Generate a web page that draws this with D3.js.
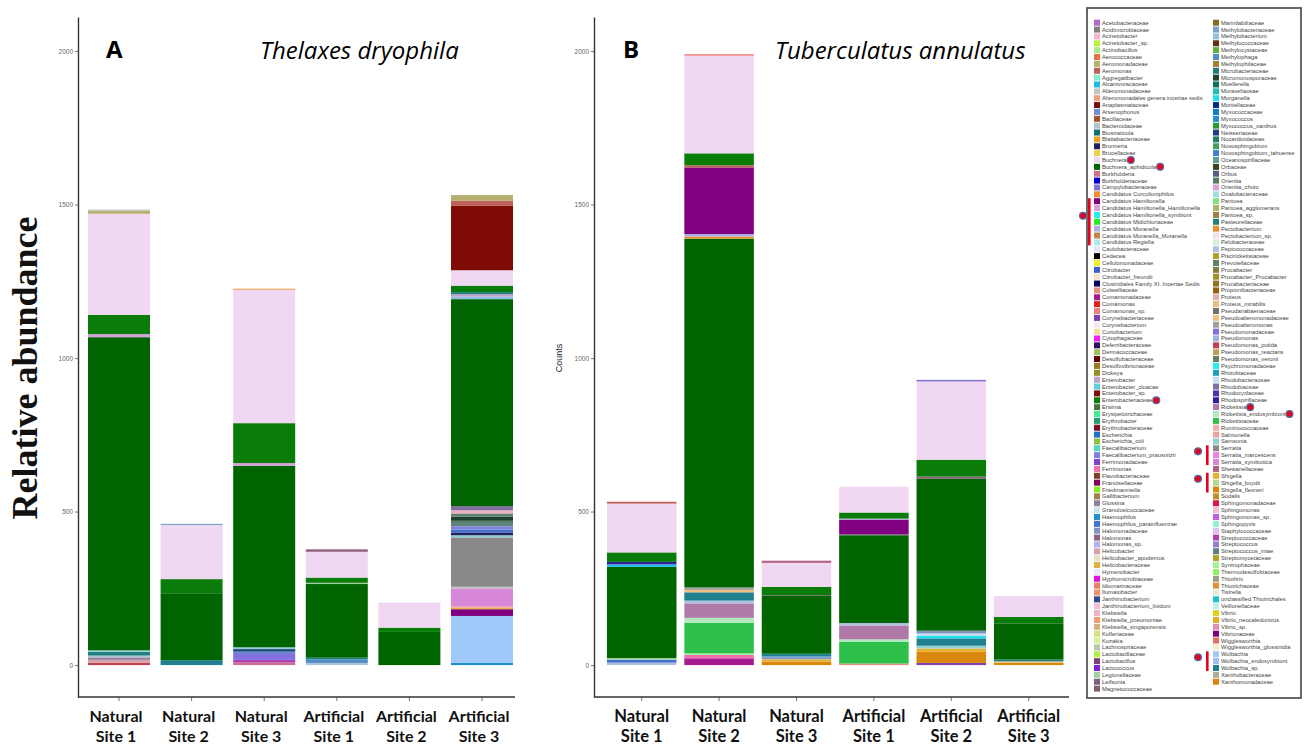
<!DOCTYPE html>
<html><head><meta charset="utf-8">
<script src="https://cdn.jsdelivr.net/npm/d3@7"></script>
<style>
html,body{margin:0;padding:0;background:#fff;}
svg{display:block;}
</style></head>
<body>
<svg id="chart" width="1304" height="747"></svg>
<script>
// ---------------- DATA ----------------
const sites = ["Natural Site 1","Natural Site 2","Natural Site 3","Artificial Site 1","Artificial Site 2","Artificial Site 3"];
const siteLabelLines = [["Natural","Site 1"],["Natural","Site 2"],["Natural","Site 3"],["Artificial","Site 1"],["Artificial","Site 2"],["Artificial","Site 3"]];
const yTicks = [0, 500, 1000, 1500, 2000];

const legendLeft = [
["Acetobacteraceae","#b366cc"],["Acidimicrobiaceae","#808080"],["Acinetobacter","#f4b6c8"],["Acinetobacter_sp.","#b8f040"],
["Actinobacillus","#a8e890"],["Aerococcaceae","#e8704a"],["Aeromonadaceae","#b8b070"],["Aeromonas","#c0605a"],
["Aggregatibacter","#80f0d0"],["Alcanivoracaceae","#20b8e8"],["Alteromonadaceae","#c4c4c4"],["Alteromonadales genera incertae sedis","#f0a080"],
["Anaplasmataceae","#701010"],["Arsenophonus","#7090d8"],["Bacillaceae","#a0522d"],["Bacteroidaceae","#b0c4d0"],
["Biostraticola","#107070"],["Blattabacteriaceae","#f0a020"],["Bronneria","#202060"],["Brucellaceae","#f0d040"],
["Buchnera","#f0d8f2"],["Buchnera_aphidicola","#006400"],["Burkholderia","#d07090"],["Burkholderiaceae","#0000d0"],
["Campylobacteraceae","#8070d0"],["Candidatus Curculioniphilus","#f09030"],["Candidatus Hamiltonella","#800080"],["Candidatus Hamiltonella_Hamiltonella","#d8a0d8"],
["Candidatus Hamiltonella_symbiont","#20f0f0"],["Candidatus Midichloriaceae","#20f020"],["Candidatus Moranella","#b0b0e8"],["Candidatus Moranella_Moranella","#c08850"],
["Candidatus Regiella","#b0e8e8"],["Caulobacteraceae","#e0e8f8"],["Cedecea","#000000"],["Cellulomonadaceae","#f0f020"],
["Citrobacter","#4060c8"],["Citrobacter_freundii","#f8e0c8"],["Clostridiales Family XI. Incertae Sedis","#000060"],["Colwelliaceae","#e89080"],
["Comamonadaceae","#a81890"],["Comamonas","#e02020"],["Comamonas_sp.","#f08080"],["Corynebacteriaceae","#8040b0"],
["Corynebacterium","#f8e8f0"],["Curtobacterium","#f0e0a0"],["Cytophagaceae","#f020f0"],["Deferribacteraceae","#301060"],
["Dermacoccaceae","#a0c060"],["Desulfobacteraceae","#600000"],["Desulfovibrionaceae","#a07820"],["Dickeya","#909020"],
["Enterobacter","#c0a0d0"],["Enterobacter_cloacae","#60d0d8"],["Enterobacter_sp.","#7e0c04"],["Enterobacteriaceae","#0a7c0a"],
["Erwinia","#4a7040"],["Erysipelotrichaceae","#40f090"],["Erythrobacter","#20a070"],["Erythrobacteraceae","#801020"],
["Escherichia","#2070c8"],["Escherichia_coli","#90c040"],["Faecalibacterium","#50d8c0"],["Faecalibacterium_prausnitzii","#8080e0"],
["Ferrimonadaceae","#8040d0"],["Ferrimonas","#f070b0"],["Flavobacteriaceae","#804020"],["Francisellaceae","#800060"],
["Friedmanniella","#80f020"],["Gallibacterium","#a08050"],["Glossina","#9080a0"],["Granulosicoccaceae","#c8e8e8"],
["Haemophilus","#2090d0"],["Haemophilus_parainfluenzae","#4070d0"],["Halomonadaceae","#8090c0"],["Halomonas","#906080"],
["Halomonas_sp.","#b0b0f0"],["Helicobacter","#d8a0a8"],["Helicobacter_apodemus","#e8e0c0"],["Helicobacteraceae","#e0b040"],
["Hymenobacter","#e8e8f8"],["Hyphomicrobiaceae","#e010e0"],["Idiomarinaceae","#e88060"],["Ilumatobacter","#f09070"],
["Janthinobacterium","#304890"],["Janthinobacterium_lividum","#f0c0d0"],["Klebsiella","#f0b0c8"],["Klebsiella_pneumoniae","#f0a070"],
["Klebsiella_singaporensis","#d8b080"],["Kofleriaceae","#d8e080"],["Kozakia","#d8f090"],["Lachnospiraceae","#b8c8a8"],
["Lactobacillaceae","#b0f040"],["Lactobacillus","#804080"],["Lactococcus","#8020d0"],["Legionellaceae","#a0d0a0"],
["Leifsonia","#806080"],["Magnetococcaceae","#806070"]
];
const legendRight = [
["Marinilabiliaceae","#807020"],["Methylobacteriaceae","#80a0d0"],["Methylobacterium","#90c0e0"],["Methylococcaceae","#603010"],
["Methylocystaceae","#60b040"],["Methylophaga","#5090c0"],["Methylophilaceae","#a08030"],["Microbacteriaceae","#208080"],
["Micromonosporaceae","#204030"],["Moellerella","#107060"],["Moraxellaceae","#20c0b0"],["Morganella","#20e0f0"],
["Moritellaceae","#003080"],["Myxococcaceae","#1080c0"],["Myxococcus","#2090d0"],["Myxococcus_xanthus","#20a030"],
["Neisseriaceae","#204080"],["Nocardioidaceae","#208060"],["Novosphingobium","#40a060"],["Novosphingobium_tahuense","#4080d0"],
["Oceanospirillaceae","#60a090"],["Orbaceae","#404020"],["Orbus","#506080"],["Orientia","#508060"],
["Orientia_chuto","#e0a0e0"],["Oxalobacteraceae","#a0e0e0"],["Pantoea","#80e080"],["Pantoea_agglomerans","#b0b070"],
["Pantoea_sp.","#a08040"],["Pasteurellaceae","#208080"],["Pectobacterium","#e89030"],["Pectobacterium_sp.","#f0e0f0"],
["Pelobacteraceae","#d8f0d8"],["Peptococcaceae","#b0c0e0"],["Piscirickettsiaceae","#b0a030"],["Prevotellaceae","#608070"],
["Procabacter","#808040"],["Procabacter_Procabacter","#a09030"],["Procabacteriaceae","#907020"],["Propionibacteriaceae","#906010"],
["Proteus","#e0b0b0"],["Proteus_mirabilis","#e8c080"],["Pseudanabaenaceae","#707070"],["Pseudoalteromonadaceae","#f0c080"],
["Pseudoalteromonas","#a0a0a0"],["Pseudomonadaceae","#8070e0"],["Pseudomonas","#a0b0e0"],["Pseudomonas_putida","#c04050"],
["Pseudomonas_reactans","#c0a060"],["Pseudomonas_veronii","#608060"],["Psychromonadaceae","#20f0f0"],["Rhizobiaceae","#20a0c0"],
["Rhodobacteraceae","#c0e0f0"],["Rhodobiaceae","#8070a0"],["Rhodocyclaceae","#5030b0"],["Rhodospirillaceae","#3020a0"],
["Rickettsia","#b07aa8"],["Rickettsia_endosymbiont","#b0e8c0"],["Rickettsiaceae","#2ec04a"],["Ruminococcaceae","#f0b0b0"],
["Salmonella","#f0a0a0"],["Samsonia","#90d0d0"],["Serratia","#888888"],["Serratia_marcescens","#f080e0"],
["Serratia_symbiotica","#d888d8"],["Shewanellaceae","#b06080"],["Shigella","#e8b030"],["Shigella_boydii","#b0d890"],
["Shigella_flexneri","#d8860c"],["Sodalis","#c09020"],["Sphingomonadaceae","#e01050"],["Sphingomonas","#f0c0e0"],
["Sphingomonas_sp.","#c060e0"],["Sphingopyxis","#90f0d0"],["Staphylococcaceae","#e0c0f0"],["Streptococcaceae","#b040b0"],
["Streptococcus","#9080d0"],["Streptococcus_iniae","#608080"],["Streptomycetaceae","#b0a020"],["Syntrophaceae","#a0f0a0"],
["Thermodesulfobiaceae","#90f060"],["Thiothrix","#a0a080"],["Thiotrichaceae","#e09030"],["Tistrella","#e0f0e0"],
["unclassified Thiotrichales","#20c0d0"],["Veillonellaceae","#c0f0f0"],["Vibrio","#e0d020"],["Vibrio_neocaledonicus","#e0b020"],
["Vibrio_sp.","#e090b0"],["Vibrionaceae","#800080"],["Wigglesworthia","#e07060"],["Wigglesworthia_glossinidia","#f0f0d0"],
["Wolbachia","#a0c8f8"],["Wolbachia_endosymbiont","#a0c0f0"],["Wolbachia_sp.","#208090"],["Xanthobacteraceae","#b0b090"],
["Xanthomonadaceae","#e08010"]
];

// Stacked segments, bottom -> top: [taxon, count]
// Panel A: Thelaxes dryophila
const thelaxesNatural1 = [["Pseudomonas_putida",8],["Helicobacter",9],["Glossina",8],["Bacteroidaceae",6],["Microbacteriaceae",12],["Samsonia",5],
  ["Buchnera_aphidicola",1020],["Candidatus Hamiltonella_Hamiltonella",10],["Enterobacteriaceae",63],["Buchnera",329],["Aeromonadaceae",10],["Alteromonadaceae",4]];
const thelaxesNatural2 = [["Wolbachia_sp.",16],["Buchnera_aphidicola",218],["Enterobacteriaceae",46],["Buchnera",176],["Methylobacteriaceae",4]];
const thelaxesNatural3 = [["Burkholderia",8],["Streptococcaceae",9],["Pseudomonadaceae",22],["Methylophaga",5],["Neisseriaceae",8],["Samsonia",6],
  ["Buchnera_aphidicola",591],["Candidatus Hamiltonella_Hamiltonella",9],["Enterobacteriaceae",130],["Buchnera",435],["Pectobacterium",3]];
const thelaxesArtificial1 = [["Peptococcaceae",7],["Methylophaga",11],["Wolbachia_sp.",6],["Buchnera_aphidicola",240],["Legionellaceae",4],
  ["Enterobacteriaceae",17],["Buchnera",84],["Halomonas",8]];
const thelaxesArtificial2 = [["Buchnera_aphidicola",108],["Enterobacteriaceae",14],["Buchnera",78],["Staphylococcaceae",3]];
const thelaxesArtificial3 = [["Myxococcus",8],["Wolbachia",152],["Candidatus Hamiltonella",22],["Helicobacteraceae",5],["Salmonella",5],
  ["Serratia_symbiotica",58],["Alteromonadaceae",5],["Serratia",161],["Samsonia",7],["Bronneria",9],["Haemophilus_parainfluenzae",9],
  ["Faecalibacterium_prausnitzii",11],["Streptococcus_iniae",11],["Orientia",7],["Micromonosporaceae",13],["Prevotellaceae",11],
  ["Klebsiella",10],["Rhodobiaceae",14],["Buchnera_aphidicola",674],["Methylobacterium",8],["Enterobacter",8],["Microbacteriaceae",7],
  ["Enterobacteriaceae",21],["Buchnera",50],["Enterobacter_sp.",211],["Aeromonas",15],["Aeromonadaceae",19]];

// Panel B: Tuberculatus annulatus
const tuberculatusNatural1 = [["Peptococcaceae",8],["Haemophilus_parainfluenzae",9],["Legionellaceae",6],["Buchnera_aphidicola",297],
  ["Alcanivoracaceae",8],["Rhodospirillaceae",8],["Enterobacteriaceae",31],["Buchnera",159],["Aeromonas",6]];
const tuberculatusNatural2 = [["Comamonadaceae",22],["Ferrimonas",11],["Syntrophaceae",5],["Rickettsiaceae",100],["Rickettsia_endosymbiont",16],
  ["Rickettsia",47],["Peptococcaceae",9],["Wolbachia_sp.",27],["Pseudoalteromonadaceae",8],["Pseudoalteromonas",8],
  ["Buchnera_aphidicola",1136],["Pectobacterium",7],["Candidatus Moranella",8],["Candidatus Hamiltonella",217],["Aeromonas",7],
  ["Enterobacteriaceae",39],["Buchnera",318],["Comamonas_sp.",5]];
const tuberculatusNatural3 = [["Shigella_flexneri",11],["Shigella",8],["Methylobacteriaceae",9],["Wolbachia_sp.",9],["Buchnera_aphidicola",188],
  ["Pseudanabaenaceae",3],["Enterobacteriaceae",27],["Buchnera",78],["Shewanellaceae",7]];
const tuberculatusArtificial1 = [["Colwelliaceae",5],["Rickettsiaceae",71],["Rickettsia_endosymbiont",8],["Rickettsia",45],["Peptococcaceae",8],
  ["Buchnera_aphidicola",286],["Pseudanabaenaceae",3],["Candidatus Hamiltonella",48],["Candidatus Moranella",3],["Enterobacteriaceae",20],["Buchnera",84]];
const tuberculatusArtificial2 = [["Corynebacteriaceae",7],["Shigella_flexneri",36],["Shigella",11],["Samsonia",9],["Wolbachia_sp.",24],
  ["Morganella",8],["Rhodobacteraceae",8],["Halomonadaceae",9],["Buchnera_aphidicola",495],["Magnetococcaceae",7],
  ["Enterobacteriaceae",55],["Buchnera",255],["Campylobacteraceae",5]];
const tuberculatusArtificial3 = [["Shigella_flexneri",7],["Pseudoalteromonadaceae",5],["Microbacteriaceae",6],["Buchnera_aphidicola",118],
  ["Enterobacteriaceae",21],["Buchnera",68]];

const thelaxesBars = [thelaxesNatural1, thelaxesNatural2, thelaxesNatural3, thelaxesArtificial1, thelaxesArtificial2, thelaxesArtificial3];
const tuberculatusBars = [tuberculatusNatural1, tuberculatusNatural2, tuberculatusNatural3, tuberculatusArtificial1, tuberculatusArtificial2, tuberculatusArtificial3];

// Annotated legend entries (red markers)
const markedTaxa = ["Buchnera","Buchnera_aphidicola","Enterobacteriaceae","Rickettsia","Rickettsia_endosymbiont"];
const bracketGroups = [
  ["Candidatus Hamiltonella","Candidatus Regiella"],
  ["Serratia","Serratia_symbiotica"],
  ["Shigella","Shigella_flexneri"],
  ["Wolbachia","Wolbachia_sp."]
];

// ---------------- DRAW ----------------
const svg = d3.select("#chart");
const color = d3.scaleOrdinal()
  .domain(legendLeft.concat(legendRight).map(d => d[0]))
  .range(legendLeft.concat(legendRight).map(d => d[1]));

const y = d3.scaleLinear().domain([-104, 2111]).range([697, 17]);

function drawPanel(cfg) {
  const g = svg.append("g");
  const x = d3.scaleBand().domain(sites).range(cfg.xRange)
    .paddingInner(cfg.padIn).paddingOuter(cfg.padIn / 2);

  // bars
  cfg.bars.forEach((segs, i) => {
    let cum = 0;
    const stack = segs.map(([taxon, v]) => { const s = {taxon, y0: cum, y1: cum + v}; cum += v; return s; });
    g.selectAll(null).data(stack).enter().append("rect")
      .attr("x", x(sites[i]))
      .attr("width", x.bandwidth())
      .attr("y", d => y(d.y1))
      .attr("height", d => y(d.y0) - y(d.y1))
      .attr("fill", d => color(d.taxon));
  });

  // y axis
  const ya = g.append("g").attr("transform", `translate(${cfg.axisX},0)`)
    .call(d3.axisLeft(y).tickValues(yTicks).tickFormat(d3.format("d")).tickSize(3).tickSizeOuter(0).tickPadding(2));
  ya.select(".domain").attr("stroke", "#333").attr("stroke-width", 1.4);
  ya.selectAll(".tick line").attr("stroke", "#777");
  ya.selectAll(".tick text").attr("fill", "#666").style("font-family", "Liberation Sans, Arial, sans-serif").style("font-size", "6.5px");

  // x axis
  const xa = g.append("g").attr("transform", `translate(0,697)`)
    .call(d3.axisBottom(x).tickSize(4).tickSizeOuter(0).tickFormat(""));
  xa.select(".domain").remove();
  xa.selectAll(".tick line").attr("stroke", "#777");
  g.append("line").attr("x1", cfg.axisX).attr("x2", cfg.axisEnd).attr("y1", 697).attr("y2", 697)
    .attr("stroke", "#333").attr("stroke-width", 1.4);

  // x labels
  siteLabelLines.forEach((lines, i) => {
    const cx = x(sites[i]) + x.bandwidth() / 2 + cfg.labelShift;
    const t = g.append("text")
      .attr("text-anchor", "middle")
      .style("font-family", "Lato, 'Open Sans', sans-serif")
      .style("font-weight", "bold")
      .style("font-size", cfg.labelSize + "px")
      .attr("fill", "#111");
    t.append("tspan").attr("x", cx).attr("y", 722).text(lines[0]);
    t.append("tspan").attr("x", cx).attr("y", 742).text(lines[1]);
  });

  // panel letter + species title
  g.append("text").attr("x", cfg.letterX).attr("y", 58).text(cfg.letter)
    .style("font-family", "'Open Sans', sans-serif").style("font-weight", "bold").style("font-size", "24px").attr("fill", "#000");
  g.append("text").attr("x", cfg.titleX).attr("y", 59).text(cfg.title)
    .style("font-family", "'Open Sans', sans-serif").style("font-style", "italic").style("font-size", cfg.titleSize + "px").attr("fill", "#000");
}

drawPanel({bars: thelaxesBars, xRange: [82.7, 518.3], padIn: 0.146, axisX: 78, axisEnd: 515,
  letter: "A", letterX: 106, title: "Thelaxes dryophila", titleX: 260, titleSize: 24, labelSize: 16, labelShift: -3});
drawPanel({bars: tuberculatusBars, xRange: [603, 1067.4], padIn: 0.102, axisX: 594, axisEnd: 1069,
  letter: "B", letterX: 623, title: "Tuberculatus annulatus", titleX: 775, titleSize: 24, labelSize: 16.5, labelShift: 0});

// axis titles
svg.append("text").attr("transform", "translate(37,368) rotate(-90)").attr("text-anchor", "middle")
  .text("Relative abundance")
  .style("font-family", "'Liberation Serif', 'Times New Roman', serif").style("font-weight", "bold").style("font-size", "36px").attr("fill", "#111");
svg.append("text").attr("transform", "translate(562,358) rotate(-90)").attr("text-anchor", "middle")
  .text("Counts")
  .style("font-family", "'Liberation Sans Narrow', 'Liberation Sans', Arial, sans-serif").style("font-size", "9px").attr("fill", "#222");

// ---------------- LEGEND ----------------
const lg = svg.append("g");
lg.append("rect").attr("x", 1087).attr("y", 8).attr("width", 214).attr("height", 690)
  .attr("fill", "#fff").attr("stroke", "#444").attr("stroke-width", 1.6);

const rowY = d3.scaleLinear().domain([0, 1]).range([22.7, 22.7 + 6.865]);
const columns = [{items: legendLeft, sx: 1094, tx: 1102}, {items: legendRight, sx: 1213, tx: 1221}];
const entryPos = {};
columns.forEach(col => {
  col.items.forEach(([name, c], i) => {
    const cy = rowY(i);
    lg.append("rect").attr("x", col.sx).attr("y", cy - 3).attr("width", 6).attr("height", 6).attr("fill", c);
    const t = lg.append("text").attr("x", col.tx).attr("y", cy + 2).text(name)
      .style("font-family", "'Liberation Sans', Arial, sans-serif").style("font-size", "5.8px").attr("fill", "#444");
    entryPos[name] = {y: cy, tx: col.tx, node: t.node(), col};
  });
});

// red markers
function dot(cx, cy) {
  lg.append("circle").attr("cx", cx).attr("cy", cy).attr("r", 3.4)
    .attr("fill", "#e8001c").attr("stroke", "#5a6aa0").attr("stroke-width", 1.3);
}
markedTaxa.forEach(name => {
  const e = entryPos[name];
  const w = e.node.getComputedTextLength();
  dot(e.tx + w + 4, e.y);
});
bracketGroups.forEach(([a, b], gi) => {
  const ea = entryPos[a], eb = entryPos[b];
  const bx = gi === 0 ? 1089 : 1207;
  lg.append("rect").attr("x", bx - 1).attr("y", ea.y - 3).attr("width", 2.6).attr("height", eb.y - ea.y + 6).attr("fill", "#e8001c");
  const midY = gi === 0 ? (ea.y + eb.y) / 2 - 6 : ea.y + 3;
  dot(gi === 0 ? 1083 : 1198, midY);
});
</script>
</body></html>
